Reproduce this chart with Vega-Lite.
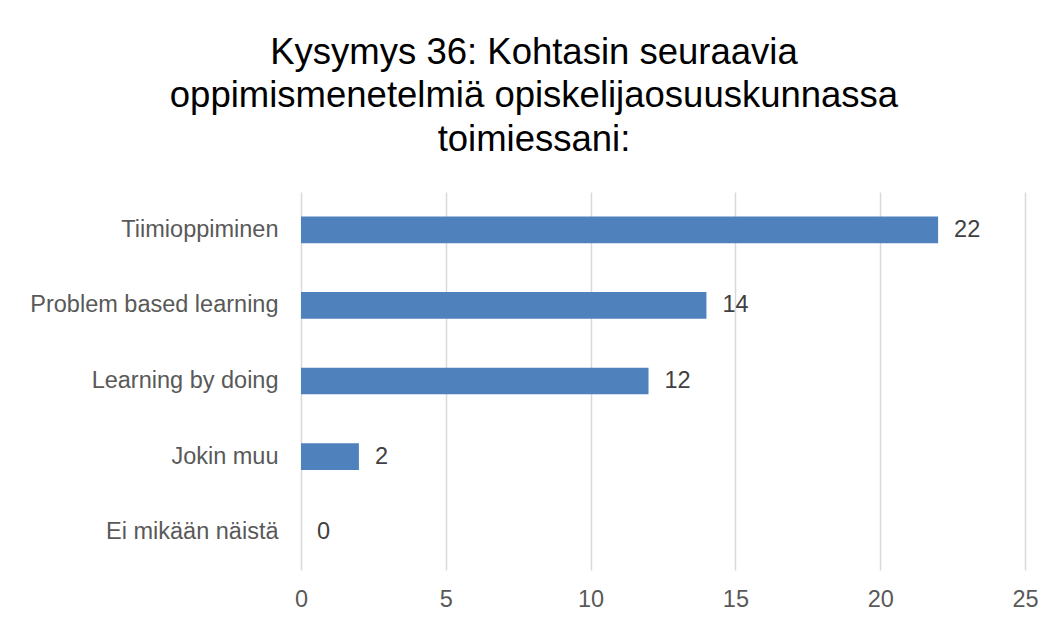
{
  "$schema": "https://vega.github.io/schema/vega-lite/v6.json",
  "width": 724,
  "height": 378,
  "autosize": {"type": "none"},
  "padding": {"left": 301, "top": 192, "right": 32, "bottom": 49},
  "background": "white",
  "title": {
    "text": ["Kysymys 36: Kohtasin seuraavia", "oppimismenetelmiä opiskelijaosuuskunnassa", "toimiessani:"],
    "fontSize": 36.5,
    "font": "Liberation Sans",
    "fontWeight": "normal",
    "color": "#000000",
    "lineHeight": 43.5,
    "anchor": "middle",
    "frame": "group",
    "dx": -129,
    "offset": -3,
    "baseline": "bottom"
  },
  "config": {
    "font": "Liberation Sans",
    "view": {"stroke": null}
  },
  "data": {
    "values": [
      {"category": "Tiimioppiminen", "value": 22},
      {"category": "Problem based learning", "value": 14},
      {"category": "Learning by doing", "value": 12},
      {"category": "Jokin muu", "value": 2},
      {"category": "Ei mikään näistä", "value": 0}
    ]
  },
  "encoding": {
    "y": {
      "field": "category",
      "type": "nominal",
      "sort": null,
      "scale": {"paddingInner": 0.647, "paddingOuter": 0.3235},
      "axis": {
        "title": null,
        "domain": false,
        "ticks": false,
        "tickSize": 0,
        "labelPadding": 23,
        "labelFontSize": 23.5,
        "labelColor": "#595959",
        "labelLimit": 400,
        "grid": false
      }
    },
    "x": {
      "field": "value",
      "type": "quantitative",
      "scale": {"domain": [0, 25], "nice": false},
      "axis": {
        "title": null,
        "values": [0, 5, 10, 15, 20, 25],
        "domain": false,
        "ticks": false,
        "tickSize": 0,
        "labelFlush": false,
        "labelOverlap": false,
        "labelPadding": 17,
        "labelFontSize": 23.5,
        "labelColor": "#595959",
        "grid": true,
        "gridColor": "#d9d9d9",
        "gridWidth": 1.5
      }
    }
  },
  "layer": [
    {"mark": {"type": "bar", "color": "#4f81bd"}},
    {
      "mark": {"type": "text", "align": "left", "baseline": "middle", "dx": 16, "fontSize": 23.5, "color": "#404040"},
      "encoding": {"text": {"field": "value", "type": "quantitative"}}
    }
  ]
}
